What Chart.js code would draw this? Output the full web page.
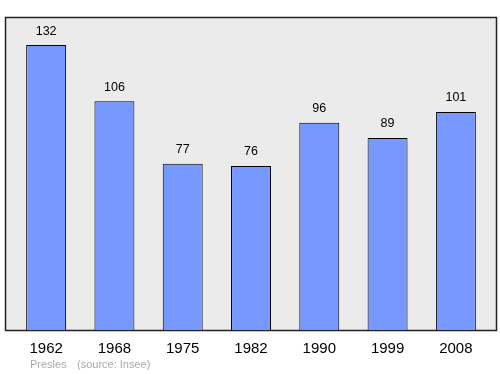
<!DOCTYPE html>
<html lang="fr">
<head>
  <meta charset="UTF-8" />
  <title>Presles - population</title>
  <script src="https://cdn.jsdelivr.net/npm/chart.js"></script>
  <style>
    html, body { margin: 0; padding: 0; background: #fff; }
    #wrap { width: 500px; height: 374px; }
  </style>
</head>
<body>
<div id="wrap"><canvas id="popChart" width="500" height="374"></canvas></div>
<script>
  const years = ['1962', '1968', '1975', '1982', '1990', '1999', '2008'];
  const population = [132, 106, 77, 76, 96, 89, 101];
  const yMax = 145;

  // gray frame behind the bars, a bit wider than the category scale
  const frame = {
    id: 'frame',
    beforeDatasetsDraw(chart) {
      const { ctx, chartArea: a } = chart;
      ctx.save();
      ctx.fillStyle = '#ebebeb';
      ctx.fillRect(5, a.top, 492, a.bottom - a.top);
      ctx.strokeStyle = '#222';
      ctx.lineWidth = 1.5;
      ctx.strokeRect(5.5, a.top + 0.5, 491, a.bottom - a.top);
      ctx.restore();
    },
    afterDatasetsDraw(chart) {
      const { ctx } = chart;
      const meta = chart.getDatasetMeta(0);
      ctx.save();
      ctx.fillStyle = '#000';
      ctx.font = '12.5px "Liberation Sans", Arial, sans-serif';
      ctx.textAlign = 'center';
      ctx.textBaseline = 'middle';
      meta.data.forEach((bar, i) => {
        ctx.fillText(population[i], bar.x, bar.y - 14);
      });
      // source line
      ctx.fillStyle = '#aaa';
      ctx.font = '11px "Liberation Sans", Arial, sans-serif';
      ctx.textAlign = 'left';
      ctx.fillText('Presles', 30, 365);
      ctx.fillText('(source: Insee)', 77, 365);
      ctx.restore();
    }
  };

  new Chart(document.getElementById('popChart'), {
    type: 'bar',
    data: {
      labels: years,
      datasets: [{
        data: population,
        backgroundColor: '#7799ff',
        borderColor: '#000',
        borderWidth: 1,
        barPercentage: 0.585,
        categoryPercentage: 1
      }]
    },
    options: {
      responsive: false,
      animation: false,
      layout: { padding: { left: 12, right: 10, top: 17, bottom: 14 } },
      plugins: { legend: { display: false }, tooltip: { enabled: false } },
      scales: {
        x: {
          grid: { display: false },
          border: { display: false },
          ticks: {
            color: '#000',
            padding: 2,
            font: { size: 15, family: '"Liberation Sans", Arial, sans-serif' }
          }
        },
        y: { display: false, min: 0, max: yMax }
      }
    },
    plugins: [frame]
  });
</script>
</body>
</html>
